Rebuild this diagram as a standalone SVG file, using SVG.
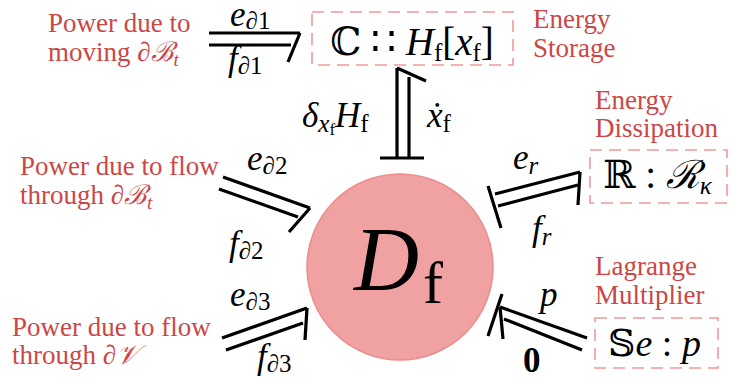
<svg xmlns="http://www.w3.org/2000/svg" width="730" height="380" viewBox="0 0 730 380" font-family="'Liberation Serif', 'Times New Roman', 'DejaVu Serif', serif">
<style>
.lbl{font-size:27px;fill:#cc4646}
.m{font-size:35px;fill:#000;font-style:italic}
.up{font-style:normal}
.sub{font-size:25px}
.box{fill:none;stroke:#ef9a9a;stroke-width:1.6;stroke-dasharray:12 7}
.bond line{stroke:#000;stroke-width:3.2;stroke-linecap:butt}
</style>
<rect width="730" height="380" fill="#fff"/>

<g id="label-moving">
<text class="lbl" x="48" y="32">Power due to</text>
<text class="lbl" x="48" y="61">moving <tspan font-style="italic">∂ℬ</tspan><tspan font-style="italic" style="font-size:19px" dy="5">t</tspan></text>
</g>
<g id="label-storage">
<text class="lbl" x="533" y="28">Energy</text>
<text class="lbl" x="533" y="57">Storage</text>
</g>
<g id="label-flow-B">
<text class="lbl" x="20" y="175">Power due to flow</text>
<text class="lbl" x="20" y="204">through <tspan font-style="italic">∂ℬ</tspan><tspan font-style="italic" style="font-size:19px" dy="5">t</tspan></text>
</g>
<g id="label-flow-V">
<text class="lbl" x="12" y="336">Power due to flow</text>
<text class="lbl" x="12" y="364">through <tspan font-style="italic">∂𝒱</tspan></text>
</g>
<g id="label-dissipation">
<text class="lbl" x="595" y="109">Energy</text>
<text class="lbl" x="595" y="137">Dissipation</text>
</g>
<g id="label-lagrange">
<text class="lbl" x="595" y="275">Lagrange</text>
<text class="lbl" x="595" y="304">Multiplier</text>
</g>

<g id="node-C">
<rect class="box" x="312" y="12" width="201" height="53"/>
<text class="m" style="font-size:39px" x="412" y="55" text-anchor="middle"><tspan class="up">ℂ ∷ </tspan>H<tspan class="up sub" dy="6">f</tspan><tspan class="up" dy="-6">[</tspan>x<tspan class="up sub" dy="6">f</tspan><tspan class="up" dy="-6">]</tspan></text>
</g>
<g id="node-R">
<rect class="box" x="590" y="150" width="137" height="53"/>
<text class="m" style="font-size:39px" x="603" y="188"><tspan class="up">ℝ : </tspan>ℛ<tspan class="sub" dy="6">κ</tspan></text>
</g>
<g id="node-Se">
<rect class="box" x="595" y="318" width="123" height="50"/>
<text class="m" style="font-size:38px" x="608" y="356"><tspan class="up">𝕊</tspan>e<tspan class="up"> : </tspan>p</text>
</g>
<g id="node-Df">
<circle cx="400" cy="267" r="93" fill="#f0a1a1" stroke="#ec8c8c" stroke-width="1.5"/>
<text class="m" style="font-size:90px" x="354" y="290">D</text>
<text class="m up" style="font-size:60px" x="423" y="303">f</text>
</g>

<g id="connectors" class="bond">
<line x1="209" y1="33" x2="300" y2="33"/>
<line x1="209" y1="45" x2="291" y2="45"/>
<line x1="300" y1="33" x2="288" y2="62"/>

<line x1="397" y1="68" x2="397" y2="158"/>
<line x1="409" y1="77" x2="409" y2="158"/>
<line x1="397" y1="68" x2="426" y2="81"/>
<line x1="380" y1="158" x2="424" y2="158"/>

<line x1="223" y1="177" x2="310" y2="208"/>
<line x1="219" y1="189" x2="298" y2="217"/>
<line x1="310" y1="208" x2="289" y2="232"/>

<line x1="222" y1="338" x2="307" y2="308"/>
<line x1="226" y1="350" x2="303" y2="323"/>
<line x1="307" y1="308" x2="305" y2="340"/>

<line x1="495" y1="194" x2="580" y2="172"/>
<line x1="498" y1="206" x2="578" y2="185"/>
<line x1="580" y1="172" x2="578" y2="205"/>
<line x1="488" y1="186" x2="501" y2="228"/>

<line x1="500" y1="307" x2="587" y2="338"/>
<line x1="504" y1="319" x2="582" y2="350"/>
<line x1="500" y1="307" x2="503" y2="339"/>
<line x1="502" y1="294" x2="488" y2="336"/>
</g>

<g id="bond-labels">
<text class="m" x="230" y="26">e<tspan class="sub" dy="3">∂</tspan><tspan class="up sub">1</tspan></text>
<text class="m" x="228" y="70">f<tspan class="sub" dy="4">∂</tspan><tspan class="up sub">1</tspan></text>
<text class="m" x="302" y="127">δ<tspan class="sub" dy="5">x</tspan><tspan class="up" style="font-size:17px" dy="3">f</tspan><tspan dy="-8">H</tspan><tspan class="up sub" dy="5">f</tspan></text>
<text class="m" x="427" y="127">ẋ<tspan class="up sub" dy="5">f</tspan></text>
<text class="m" x="247" y="170">e<tspan class="sub" dy="4">∂</tspan><tspan class="up sub">2</tspan></text>
<text class="m" x="229" y="255">f<tspan class="sub" dy="4">∂</tspan><tspan class="up sub">2</tspan></text>
<text class="m" x="230" y="306">e<tspan class="sub" dy="4">∂</tspan><tspan class="up sub">3</tspan></text>
<text class="m" x="257" y="368">f<tspan class="sub" dy="4">∂</tspan><tspan class="up sub">3</tspan></text>
<text class="m" x="513" y="169">e<tspan class="sub" dy="5">r</tspan></text>
<text class="m" x="532" y="240">f<tspan class="sub" dy="5">r</tspan></text>
<text class="m" x="540" y="306">p</text>
<text class="m up" x="523" y="372" font-weight="bold">0</text>
</g>
</svg>
